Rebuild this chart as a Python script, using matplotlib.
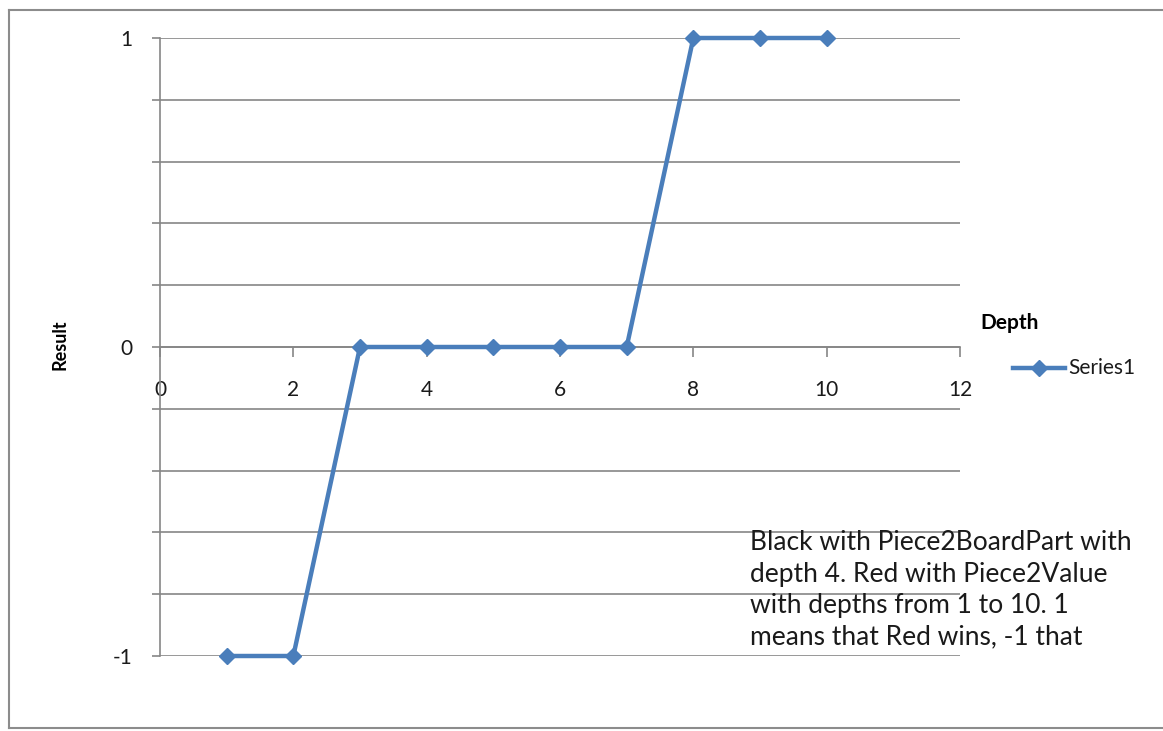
import matplotlib
matplotlib.use("Agg")
import matplotlib.pyplot as plt
from matplotlib.lines import Line2D

depth = [1, 2, 3, 4, 5, 6, 7, 8, 9, 10]
result = [-1, -1, 0, 0, 0, 0, 0, 1, 1, 1]
x_ticks = [0, 2, 4, 6, 8, 10, 12]
y_ticks = [-1, 0, 1]
y_grid = [-1, -0.8, -0.6, -0.4, -0.2, 0, 0.2, 0.4, 0.6, 0.8, 1]
series_name = "Series1"
note = ("Black with Piece2BoardPart with\n"
        "depth 4. Red with Piece2Value\n"
        "with depths from 1 to 10. 1\n"
        "means that Red wins, -1 that")

plt.rcParams['font.family'] = ['Lato', 'DejaVu Sans']

W, H = 1163, 731
fig = plt.figure(figsize=(W / 100, H / 100), dpi=100)
fig.patch.set_facecolor('white')

def fx(px):
    return px / W

def fy(py):
    return 1 - py / H

# outer chart border
border_col = '#8c8c8c'
fig.add_artist(Line2D([fx(9), fx(9)], [fy(10), fy(728)], color=border_col, lw=1.5))
fig.add_artist(Line2D([fx(9), 1.0], [fy(10), fy(10)], color=border_col, lw=1.5))
fig.add_artist(Line2D([fx(9), 1.0], [fy(728), fy(728)], color=border_col, lw=1.5))

ax = fig.add_axes([fx(160), fy(656), fx(960) - fx(160), fy(38) - fy(656)])
ax.set_xlim(0, 12)
ax.set_ylim(-1, 1)

grid_col = '#868686'
for g in y_grid:
    ax.axhline(g, color=grid_col, lw=1.2, zorder=1)

ax.set_yticks(y_grid)
ax.set_yticklabels(['-1' if v == -1 else '0' if v == 0 else '1' if v == 1 else '' for v in y_grid])
ax.set_xticks(x_ticks)
ax.set_xticklabels([str(v) for v in x_ticks])

for s in ['top', 'right']:
    ax.spines[s].set_visible(False)
ax.spines['left'].set_color(grid_col)
ax.spines['left'].set_linewidth(1.2)
ax.spines['bottom'].set_position(('data', 0))
ax.spines['bottom'].set_color(grid_col)
ax.spines['bottom'].set_linewidth(1.2)

ax.tick_params(axis='y', direction='out', length=6, width=1.2, color=grid_col,
               labelsize=15, pad=14, labelcolor='#1a1a1a')
ax.tick_params(axis='x', direction='out', length=7, width=1.2, color=grid_col,
               labelsize=15, pad=17, labelcolor='#1a1a1a')

ax.plot(depth, result, color='#4a7ebb', lw=3.2, marker='D', markersize=8,
        markerfacecolor='#4a7ebb', markeredgecolor='#4a7ebb', zorder=3,
        clip_on=False, label=series_name)

fig.text(fx(60), fy(345), 'Result', rotation=90, fontsize=13, fontweight='bold',
         ha='center', va='center', color='black')
fig.text(fx(1010), fy(323), 'Depth', fontsize=15, fontweight='bold',
         ha='center', va='center', color='black')

# legend
fig.add_artist(Line2D([fx(1013), fx(1065)], [fy(368), fy(368)], color='#4a7ebb', lw=3.2))
fig.add_artist(Line2D([fx(1039)], [fy(368)], color='#4a7ebb', marker='D', markersize=8, lw=0))
fig.text(fx(1068), fy(368), series_name, fontsize=15, ha='left', va='center', color='#1a1a1a')

fig.text(fx(750), fy(530), note, fontsize=19, ha='left', va='top', color='#1a1a1a',
         linespacing=1.33)

fig.savefig('out.png', dpi=100, facecolor='white')
